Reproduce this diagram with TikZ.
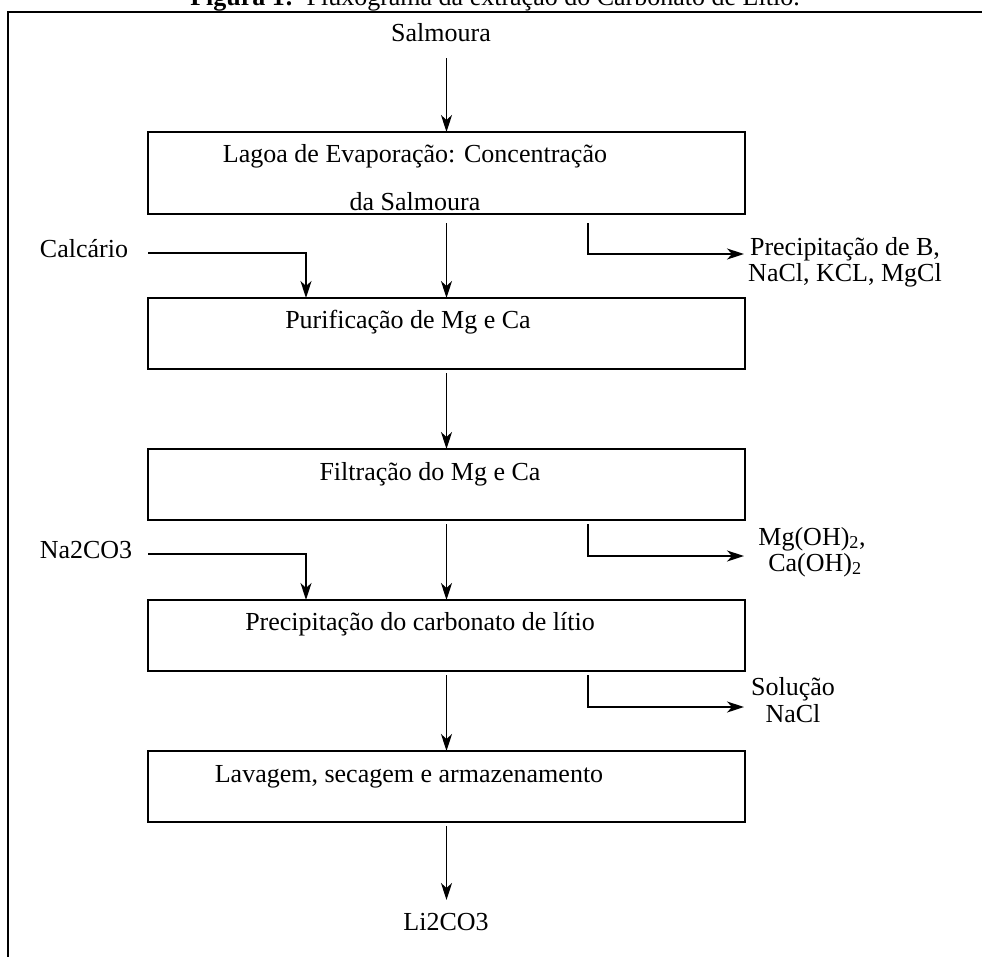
\documentclass[tikz,border=0pt]{standalone}
\usepackage{fontspec}
\setmainfont{Liberation Serif}
\usetikzlibrary{arrows.meta}
\begin{document}
\begin{tikzpicture}[x=1pt,y=-1pt,
  every node/.style={font=\fontsize{26}{30}\selectfont, inner sep=0pt, outer sep=0pt},
  procbox/.style={draw, line width=2pt, minimum width=597pt, anchor=north west},
  txt/.style={anchor=base},
  arr/.style={line width=1.8pt, -{Stealth[length=17pt,width=11pt,inset=5pt]}},
  frameline/.style={line width=2pt}]
\useasboundingbox (0,0) rectangle (982,956);
% title (cut off by the page top)
\node[txt] (title) at (495,5) {\textbf{Figura 1:}\ \ Fluxograma da extração do Carbonato de Lítio.};
% frame
\draw[frameline] (995,12) -- (8,12) -- (8,970);
% boxes
\node[procbox, minimum height=82pt] (box1) at (148,132) {};
\node[procbox, minimum height=71pt] (box2) at (148,298) {};
\node[procbox, minimum height=71pt] (box3) at (148,449) {};
\node[procbox, minimum height=71pt] (box4) at (148,600) {};
\node[procbox, minimum height=71pt] (box5) at (148,751) {};
% texts in boxes
\node[txt] (t1a) at (415,162) {Lagoa de Evaporação: Concentração};
\node[txt] (t1b) at (415,210) {da Salmoura};
\node[txt] (t2) at (408,328) {Purificação de Mg e Ca};
\node[txt] (t3) at (430,480) {Filtração do Mg e Ca};
\node[txt] (t4) at (420,630) {Precipitação do carbonato de lítio};
\node[txt] (t5) at (409,782) {Lavagem, secagem e armazenamento};
% outside texts
\node[txt] (salm) at (441,41) {Salmoura};
\node[txt] (li) at (446,930) {Li2CO3};
\node[txt] (calc) at (84,257) {Calcário};
\node[txt] (na) at (86,558) {Na2CO3};
\node[txt] (pa) at (845,255) {Precipitação de B,};
\node[txt] (pb) at (845,281) {NaCl, KCL, MgCl};
\node[txt] (ma) at (812,545) {Mg(OH)\textsubscript{2},};
\node[txt] (mb) at (815,571) {Ca(OH)\textsubscript{2}};
\node[txt] (sa) at (793,695) {Solução};
\node[txt] (sb) at (793,722) {NaCl};
% coordinates
\coordinate (s0) at (446.5,58);
\coordinate (o1) at (588,223);
\coordinate (e1) at (744,254);
\coordinate (o2) at (588,524);
\coordinate (e2) at (744,556);
\coordinate (o3) at (588,675);
\coordinate (e3) at (744,707);
\coordinate (k1) at (148,253);
\coordinate (k2) at (306,298);
\coordinate (n1) at (148,554);
\coordinate (n2) at (306,600);
\coordinate (l1) at (446.5,900);
% main flow
\draw[arr] (s0) -- (box1.north);
\draw[arr] ([yshift=-9pt]box1.south) -- (box2.north);
\draw[arr] ([yshift=-4pt]box2.south) -- (box3.north);
\draw[arr] ([yshift=-4pt]box3.south) -- (box4.north);
\draw[arr] ([yshift=-4pt]box4.south) -- (box5.north);
\draw[arr] ([yshift=-4pt]box5.south) -- (l1);
% side outputs
\draw[arr] (o1) |- (e1);
\draw[arr] (o2) |- (e2);
\draw[arr] (o3) |- (e3);
% inputs
\draw[arr] (k1) -| (k2);
\draw[arr] (n1) -| (n2);
\end{tikzpicture}
\end{document}
